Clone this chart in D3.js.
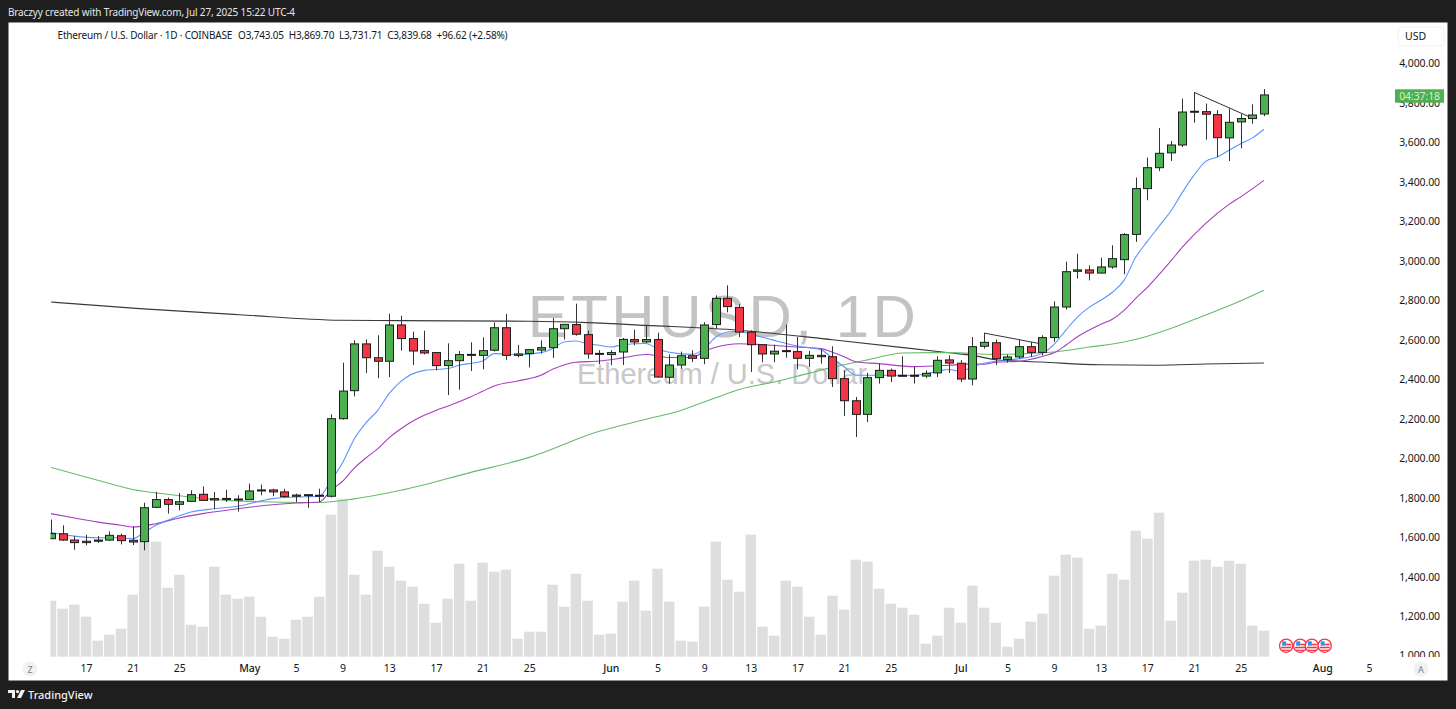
<!DOCTYPE html>
<html><head><meta charset="utf-8">
<script src="https://cdnjs.cloudflare.com/ajax/libs/d3/7.9.0/d3.min.js"></script>
<style>html,body{margin:0;padding:0;background:#1e1e1e;overflow:hidden}svg{display:block}text{font-family:"Noto Sans",sans-serif}</style>
</head><body><svg id="c" width="1456" height="709"></svg>
<script>
// OHLC, one row per day from Apr 14 to Jul 27 2025
const opens=[1591,1616,1584,1571,1578,1584,1606,1583,1576,1750,1789,1765,1780,1816,1787,1795,1792,1789,1834,1838,1828,1806,1811,1811,1806,2199,2341,2578,2508,2490,2674,2605,2544,2534,2468,2493,2520,2520,2546,2660,2520,2529,2547,2559,2655,2676,2625,2530,2524,2537,2600,2588,2600,2409,2471,2518,2505,2676,2809,2763,2638,2574,2527,2544,2539,2505,2520,2513,2402,2290,2221,2407,2444,2419,2414,2415,2431,2497,2480,2400,2566,2584,2498,2512,2564,2535,2610,2765,2946,2953,2937,2968,3005,3133,3365,3471,3546,3586,3753,3755,3740,3622,3703,3720,3743.05];
const highs=[1688,1659,1604,1611,1604,1628,1616,1653,1773,1828,1799,1822,1836,1856,1828,1839,1811,1870,1865,1844,1844,1819,1814,1844,2221,2483,2596,2601,2622,2731,2721,2640,2645,2534,2581,2542,2586,2611,2687,2730,2573,2549,2596,2709,2677,2782,2645,2546,2546,2608,2650,2672,2635,2525,2539,2546,2688,2824,2875,2779,2647,2574,2574,2676,2613,2542,2551,2566,2444,2309,2431,2478,2453,2515,2461,2444,2515,2520,2495,2613,2633,2600,2525,2600,2588,2622,2794,2995,3035,2976,3015,3078,3140,3421,3522,3672,3606,3821,3853,3796,3762,3772,3745,3792,3869.7];
const lows=[1589,1579,1535,1557,1569,1579,1562,1559,1532,1746,1718,1735,1777,1782,1741,1777,1728,1789,1811,1806,1799,1777,1748,1777,1800,2194,2312,2431,2405,2410,2544,2471,2525,2444,2319,2346,2441,2449,2539,2497,2510,2459,2529,2507,2600,2620,2503,2475,2470,2471,2571,2583,2407,2377,2453,2486,2475,2654,2738,2613,2436,2485,2486,2508,2449,2461,2478,2360,2213,2106,2182,2377,2385,2414,2377,2405,2410,2431,2385,2368,2554,2470,2483,2503,2512,2520,2588,2752,2909,2900,2934,2959,2931,3095,3306,3454,3505,3576,3699,3613,3525,3505,3569,3694,3731.71];
const closes=[1617,1584,1571,1578,1584,1608,1581,1574,1748,1789,1765,1778,1814,1785,1794,1792,1787,1833,1838,1828,1804,1812,1814,1806,2199,2339,2578,2508,2490,2674,2605,2542,2532,2468,2493,2524,2525,2544,2660,2520,2527,2549,2559,2655,2677,2627,2527,2528,2534,2601,2588,2600,2410,2471,2518,2505,2674,2809,2767,2638,2574,2527,2541,2541,2505,2520,2513,2402,2290,2221,2407,2444,2415,2415,2419,2429,2495,2481,2400,2564,2586,2503,2512,2564,2535,2610,2765,2944,2953,2937,2968,3010,3132,3365,3471,3544,3586,3753,3757,3742,3623,3701,3720,3738,3839.68];
// relative volume
const volumes=[56,48,52,40,16,22,28,62,118,115,69,82,32,30,90,62,58,60,40,20,18,37,40,60,142,158,82,62,106,90,76,70,53,34,58,93,56,94,85,87,18,25,25,72,50,83,56,22,23,55,76,46,88,55,16,15,50,115,77,65,122,30,21,76,70,40,22,61,47,97,95,68,53,49,42,13,21,49,34,71,49,34,10,18,35,43,81,102,99,28,31,83,77,126,118,144,36,64,96,97,90,96,93,31,26];
// moving-average lines: [day index, price]
const blueLine=[[0,1622],[2,1604],[4,1596],[6,1596],[7,1591],[8,1623],[9,1659],[10,1684],[12,1726],[14,1743],[16,1755],[19,1794],[21,1802],[23,1806],[24,1885],[25,1976],[26,2096],[27,2178],[28,2240],[29,2327],[30,2388],[32,2444],[34,2453],[35,2470],[37,2491],[38,2529],[40,2524],[42,2534],[43,2554],[44,2588],[45,2593],[46,2579],[47,2571],[48,2562],[49,2574],[51,2580],[52,2554],[53,2536],[55,2525],[56,2554],[57,2613],[58,2638],[59,2642],[60,2627],[61,2612],[62,2596],[64,2567],[66,2549],[67,2505],[68,2462],[69,2420],[70,2419],[72,2419],[74,2419],[76,2439],[77,2448],[78,2439],[79,2462],[80,2480],[81,2490],[82,2495],[83,2503],[84,2513],[85,2530],[86,2576],[87,2647],[88,2714],[89,2763],[90,2799],[91,2840],[92,2900],[93,3017],[94,3098],[95,3174],[96,3250],[97,3346],[98,3433],[99,3503],[100,3525],[101,3559],[102,3592],[103,3622],[104,3666]];
const purpleLine=[[0,1718],[2,1696],[4,1675],[6,1659],[7,1650],[9,1667],[11,1696],[13,1718],[16,1743],[19,1763],[21,1772],[23,1777],[24,1836],[25,1882],[26,1948],[27,2000],[28,2046],[29,2103],[30,2148],[31,2186],[32,2216],[33,2241],[34,2262],[36,2310],[37,2338],[38,2365],[40,2390],[42,2419],[43,2449],[45,2485],[47,2491],[49,2507],[51,2524],[53,2509],[55,2509],[56,2541],[57,2561],[58,2574],[59,2579],[61,2574],[64,2562],[66,2554],[67,2536],[68,2513],[69,2488],[71,2478],[74,2463],[77,2470],[79,2477],[80,2475],[81,2485],[83,2490],[85,2515],[86,2533],[87,2571],[88,2614],[90,2677],[91,2703],[92,2748],[93,2809],[94,2865],[96,2997],[97,3068],[99,3189],[101,3285],[102,3323],[104,3407]];
const greenLine=[[0,1952],[4,1887],[7,1840],[10,1816],[15,1785],[19,1777],[23,1774],[24,1778],[30,1836],[36,1927],[41,2003],[47,2135],[51,2196],[54,2241],[55,2262],[57,2305],[59,2347],[62,2385],[65,2430],[67,2459],[70,2497],[73,2532],[77,2534],[81,2525],[86,2537],[89,2562],[92,2588],[94,2617],[96,2656],[99,2725],[101,2771],[104,2850]];
const blackLine=[[0,2790],[7.6,2757],[16.2,2726],[24.8,2698],[30,2696],[41,2693],[46,2686],[51,2672],[59,2647],[67,2599],[77,2533],[79,2520],[81,2498],[85,2486],[90,2472],[95,2470],[99,2476],[104,2481]];
const trendA=[[80,2633],[84.65,2581]];
const trendB=[[98,3853],[102.66,3731]];
const priceTicks=[1000,1200,1400,1600,1800,2000,2200,2400,2600,2800,3000,3200,3400,3600,3800,4000];
const dayTicks=[3,7,11,17,21,25,29,33,37,41,48,52,56,60,64,68,72,78,82,86,90,94,98,102,109,113];
const dayLabels=["17","21","25","May","5","9","13","17","21","25","Jun","5","9","13","17","21","25","Jul","5","9","13","17","21","25","Aug","5"];
const flagDays=[105.9,107.1,108.1,109.2];
const titleText="Ethereum / U.S. Dollar · 1D · COINBASE";
const ohlcText="O3,743.05  H3,869.70  L3,731.71  C3,839.68  +96.62 (+2.58%)";

const C={bg:"#1e1e1e",up:"#4caf50",down:"#f23645",edge:"#1c1c1c",wick:"#333"};
const svg=d3.select("#c");
const x=d3.scaleLinear().domain([0,104]).range([51,1264]);
const y=d3.scaleLinear().domain([1000,4000]).range([655.3,63.3]);
const yV=d3.scaleLinear().domain([0,160]).range([656.7,496.7]);
const step=x(1)-x(0);

svg.append("rect").attr("width",1456).attr("height",709).attr("fill",C.bg);
svg.append("rect").attr("x",8.5).attr("y",22.5).attr("width",1439).attr("height",658).attr("fill","#fff");
const defs=svg.append("defs");
defs.append("clipPath").attr("id","plot").append("rect").attr("x",50.5).attr("y",22).attr("width",1340).attr("height",636);
defs.append("clipPath").attr("id","pa").append("rect").attr("x",1392).attr("y",22).attr("width",56).attr("height",635);

svg.append("text").attr("x",8).attr("y",16).attr("fill","#e6e6e6").attr("font-size",10).attr("letter-spacing",-0.16).text("Braczyy created with TradingView.com, Jul 27, 2025 15:22 UTC-4");

// watermark
svg.append("text").attr("x",723.5).attr("y",337).attr("text-anchor","middle").attr("font-size",60).attr("letter-spacing",3.5).attr("fill","#c3c3c3").style("font-family","'Liberation Sans'").text("ETHUSD, 1D");
svg.append("text").attr("x",722).attr("y",384).attr("text-anchor","middle").attr("font-size",29).attr("fill","#c8c8c8").style("font-family","'Liberation Sans'").text("Ethereum / U.S. Dollar");

const plot=svg.append("g").attr("clip-path","url(#plot)");
const days=d3.range(opens.length);
plot.append("g").selectAll("rect").data(days).join("rect")
 .attr("x",d=>x(d)-step/2+0.6).attr("width",step-1.2)
 .attr("y",d=>yV(volumes[d])).attr("height",d=>yV(0)-yV(volumes[d])).attr("fill","#dedede");

const lineGen=d3.line().x(d=>x(d[0])).y(d=>y(d[1]));
const smooth=d3.line().x(d=>x(d[0])).y(d=>y(d[1])).curve(d3.curveMonotoneX);
const series=[[blackLine,"#3a3a3a"],[greenLine,"#66bb6a"],[purpleLine,"#a93cc0"],[blueLine,"#5c93ff"]];
plot.append("g").selectAll("path").data(series).join("path").attr("d",d=>smooth(d[0])).attr("fill","none").attr("stroke",d=>d[1]).attr("stroke-width",1.1);

const cg=plot.append("g").selectAll("g").data(days).join("g");
cg.append("line").attr("x1",d=>Math.round(x(d))+.5).attr("x2",d=>Math.round(x(d))+.5)
 .attr("y1",d=>y(highs[d])).attr("y2",d=>y(lows[d])).attr("stroke",C.wick).attr("stroke-width",1);
cg.append("rect").attr("x",d=>Math.round(x(d))-3.5).attr("width",8)
 .attr("y",d=>Math.min(y(opens[d]),y(closes[d])))
 .attr("height",d=>Math.max(1,Math.abs(y(opens[d])-y(closes[d]))))
 .attr("fill",d=>closes[d]>=opens[d]?C.up:C.down).attr("stroke",C.edge).attr("stroke-width",1);

plot.append("g").selectAll("path").data([trendA,trendB]).join("path").attr("d",lineGen).attr("fill","none").attr("stroke","#333").attr("stroke-width",1);

// event flags
const flags=svg.append("g").selectAll("g").data(flagDays).join("g").attr("transform",d=>`translate(${x(d)},645.7)`);
flags.append("circle").attr("r",6.6).attr("fill","#fff").attr("stroke","#f23645").attr("stroke-width",1.3);
flags.append("rect").attr("x",-5).attr("y",1).attr("width",10).attr("height",1.6).attr("fill","#f23645");
flags.append("rect").attr("x",0).attr("y",-2).attr("width",5).attr("height",1.6).attr("fill","#f23645");
flags.append("rect").attr("x",-4.5).attr("y",4).attr("width",9).attr("height",1.2).attr("fill","#f23645");
flags.append("rect").attr("x",-4).attr("y",-4.4).attr("width",4).attr("height",4.4).attr("fill","#2196f3");

// axes
const ax=svg.append("g").attr("clip-path","url(#pa)")
 .call(d3.axisRight(y).tickValues(priceTicks).tickFormat(d3.format(",.2f")).tickSize(0));
ax.select(".domain").remove();
ax.selectAll("text").attr("x",1440).attr("text-anchor","end").attr("font-size",10.5).attr("letter-spacing",-0.1).attr("fill","#131722").attr("dy","0.35em");
const bx=svg.append("g").attr("transform","translate(0,664)")
 .call(d3.axisBottom(x).tickValues(dayTicks).tickFormat((d,i)=>dayLabels[i]).tickSize(0));
bx.select(".domain").remove();
bx.selectAll("text").attr("y",0).attr("dy","0.8em").attr("font-size",10.5).attr("fill","#131722").style("font-weight",d=>[17,48,78,109].includes(d)?"500":"400");

// header
const head=svg.append("text").attr("y",39).attr("font-size",10).attr("letter-spacing",-0.18).attr("fill","#131722").attr("xml:space","preserve").style("white-space","pre");
head.append("tspan").attr("x",57.5).text(titleText);
head.append("tspan").attr("x",238).text(ohlcText);

// USD button, countdown tag
svg.append("rect").attr("x",1398).attr("y",27).attr("width",46).attr("height",19).attr("rx",3).attr("fill","#fff").attr("stroke","#f0f0f0");
svg.append("text").attr("x",1405).attr("y",40).attr("font-size",10.5).attr("fill","#131722").text("USD");
svg.append("rect").attr("x",1395).attr("y",89.3).attr("width",49).attr("height",13.4).attr("fill","#4caf50");
svg.append("text").attr("x",1440).attr("y",99.8).attr("text-anchor","end").attr("font-size",10.5).attr("letter-spacing",-0.1).attr("fill","#d5f0d6").text("04:37:18");

// corner badges
[[30,"Z"],[1421,"A"]].forEach(([cx,t])=>{
 svg.append("circle").attr("cx",cx).attr("cy",669).attr("r",7.5).attr("fill","#f2f2f2");
 svg.append("text").attr("x",cx).attr("y",672.5).attr("text-anchor","middle").attr("font-size",9).attr("fill","#787b86").text(t);
});

// footer logo
const logo=svg.append("g").attr("transform","translate(8,690)").attr("fill","#f2f2f2");
logo.append("path").attr("d","M0 0H7V8H4V3H0Z");
logo.append("circle").attr("cx",9.5).attr("cy",1.6).attr("r",1.6);
logo.append("path").attr("d","M13 0H17L13 8H9Z");
svg.append("text").attr("x",28).attr("y",699).attr("font-size",11).attr("font-weight",500).attr("fill","#f2f2f2").text("TradingView");
</script></body></html>
